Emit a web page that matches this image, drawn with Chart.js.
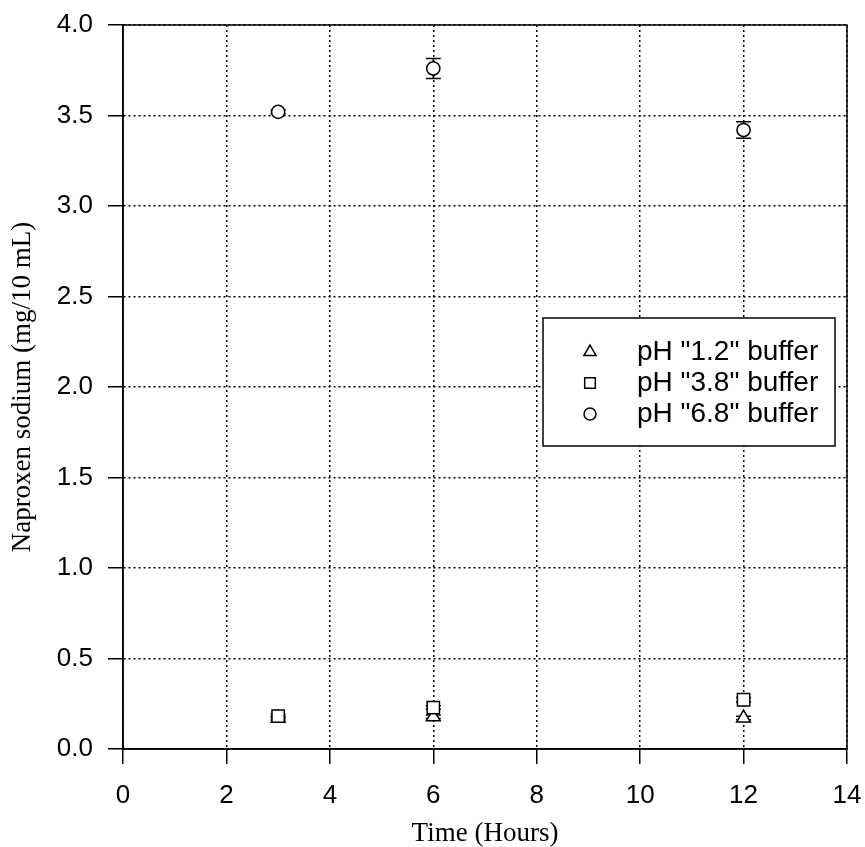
<!DOCTYPE html>
<html>
<head>
<meta charset="utf-8">
<script src="https://cdn.jsdelivr.net/npm/chart.js@4"></script>
<style>
  body { margin: 0; background: #fff; }
  canvas { display: block; }
</style>
</head>
<body>
<canvas id="chart" width="865" height="847"></canvas>
<script>
// data
const hours = [3, 6, 12]
const xTicks = [0, 2, 4, 6, 8, 10, 12, 14]
const yTicks = [0, 0.5, 1, 1.5, 2, 2.5, 3, 3.5, 4]

const ph12 = [0.17, 0.178, 0.171]
const ph12Err = [0.01, 0.01, 0.01]
const ph38 = [0.182, 0.229, 0.272]
const ph38Err = [0.01, 0.01, 0.012]
const ph68 = [3.52, 3.76, 3.42]
const ph68Err = [0.01, 0.055, 0.045]

const labels = ['pH "1.2" buffer', 'pH "3.8" buffer', 'pH "6.8" buffer']
const styles = ['triangle', 'rect', 'circle']
const radii = [8, 8.7, 6.6]

const sans = '"Liberation Sans", Arial, Helvetica, sans-serif'
const serif = '"Liberation Serif", "Times New Roman", serif'

function points(vals) {
    return hours.map((h, i) => ({ x: h, y: vals[i] }))
}

const errors = [ph12Err, ph38Err, ph68Err]

// error bars drawn behind the markers
const errorBars = {
    id: 'errorBars',
    beforeDatasetsDraw(chart) {
        const ctx = chart.ctx
        const xs = chart.scales.x
        const ys = chart.scales.y
        ctx.save()
        ctx.strokeStyle = '#000'
        ctx.lineWidth = 1.5
        chart.data.datasets.forEach((ds, i) => {
            ds.data.forEach((p, j) => {
                const e = errors[i][j]
                const px = xs.getPixelForValue(p.x)
                const top = ys.getPixelForValue(p.y + e)
                const bot = ys.getPixelForValue(p.y - e)
                ctx.beginPath()
                ctx.moveTo(px, top); ctx.lineTo(px, bot)
                ctx.moveTo(px - 7.5, top); ctx.lineTo(px + 7.5, top)
                ctx.moveTo(px - 7.5, bot); ctx.lineTo(px + 7.5, bot)
                ctx.stroke()
            })
        })
        ctx.restore()
    }
}

// white background, frame and boxed legend
const frame = {
    id: 'frame',
    beforeDraw(chart) {
        const ctx = chart.ctx
        ctx.save()
        ctx.fillStyle = '#fff'
        ctx.fillRect(0, 0, chart.width, chart.height)
        ctx.restore()
    },
    afterDraw(chart) {
        const ctx = chart.ctx
        const a = chart.chartArea
        ctx.save()
        ctx.strokeStyle = '#000'
        ctx.lineWidth = 1.5
        ctx.strokeRect(a.left, a.top, a.right - a.left, a.bottom - a.top)

        // legend box
        const bx = a.left + 420, by = a.top + 293
        const bw = 292, bh = 128
        ctx.fillStyle = '#fff'
        ctx.fillRect(bx, by, bw, bh)
        ctx.lineWidth = 1.5
        ctx.strokeRect(bx, by, bw, bh)
        ctx.font = '28px ' + sans
        ctx.textBaseline = 'middle'
        ctx.textAlign = 'left'
        labels.forEach((t, i) => {
            const ly = by + 34 + i * 31
            ctx.fillStyle = '#fff'
            ctx.strokeStyle = '#000'
            ctx.lineWidth = 1.5
            Chart.helpers.drawPoint(ctx, {
                pointStyle: styles[i],
                radius: i === 1 ? 7.5 : (i === 0 ? 7 : 6),
                borderWidth: 1.5
            }, bx + 47, ly)
            ctx.fillStyle = '#000'
            ctx.fillText(t, bx + 94, ly)
        })
        ctx.restore()
    }
}

function dataset(i, vals) {
    return {
        label: labels[i],
        data: points(vals),
        pointStyle: styles[i],
        pointRadius: radii[i],
        pointHoverRadius: radii[i],
        pointBackgroundColor: '#fff',
        pointBorderColor: '#000',
        pointBorderWidth: 1.5,
        showLine: false,
        order: 3 - i
    }
}

const ctx = document.getElementById('chart').getContext('2d')
new Chart(ctx, {
    type: 'scatter',
    data: {
        datasets: [dataset(0, ph12), dataset(1, ph38), dataset(2, ph68)]
    },
    options: {
        responsive: false,
        animation: false,
        layout: { padding: { top: 25, right: 18, left: 0, bottom: 0 } },
        plugins: {
            legend: { display: false },
            tooltip: { enabled: false }
        },
        scales: {
            x: {
                type: 'linear',
                min: 0,
                max: 14,
                afterBuildTicks: s => { s.ticks = xTicks.map(v => ({ value: v })) },
                afterFit: s => {
                    s.height = 98
                    s.paddingLeft = 0
                    s.paddingRight = 0
                },
                ticks: {
                    color: '#000',
                    font: { family: sans, size: 26 },
                    padding: 16,
                    maxRotation: 0
                },
                grid: {
                    color: '#000',
                    lineWidth: 1.5,
                    tickLength: 15,
                    tickColor: '#000',
                    tickWidth: 1.5
                },
                border: { display: true, color: '#000', width: 1.5, dash: [2, 3] },
                title: {
                    display: true,
                    text: 'Time (Hours)',
                    color: '#000',
                    font: { family: serif, size: 27 },
                    padding: { top: 0, bottom: -3 }
                }
            },
            y: {
                type: 'linear',
                min: 0,
                max: 4,
                afterBuildTicks: s => { s.ticks = yTicks.map(v => ({ value: v })) },
                afterFit: s => {
                    s.width = 123
                    s.paddingTop = 0
                    s.paddingBottom = 0
                },
                ticks: {
                    color: '#000',
                    font: { family: sans, size: 26 },
                    padding: 15,
                    callback: v => v.toFixed(1)
                },
                grid: {
                    color: '#000',
                    lineWidth: 1.5,
                    tickLength: 15,
                    tickColor: '#000',
                    tickWidth: 1.5
                },
                border: { display: true, color: '#000', width: 1.5, dash: [2, 3] },
                title: {
                    display: true,
                    text: 'Naproxen sodium (mg/10 mL)',
                    color: '#000',
                    font: { family: serif, size: 27 },
                    padding: { top: 7, bottom: 0 }
                }
            }
        }
    },
    plugins: [errorBars, frame]
})
</script>
</body>
</html>
